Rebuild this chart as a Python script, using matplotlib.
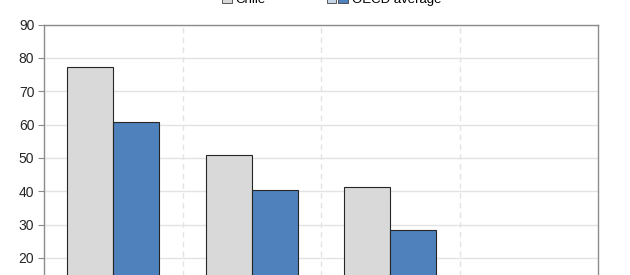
import numpy as np
import matplotlib
matplotlib.use("Agg")
import matplotlib.pyplot as plt
from matplotlib.patches import Patch
from matplotlib.legend_handler import HandlerTuple

# data (4th category is empty)
categories = ["A", "B", "C", "D"]
chile = [77.2, 50.8, 41.3, np.nan]
oecd = [60.8, 40.3, 28.3, np.nan]
series_names = ["Chile", "OECD average"]

plt.rcParams['font.family'] = ['Liberation Sans', 'DejaVu Sans']

fig = plt.figure(figsize=(6.3, 2.75), dpi=100)
# axes runs off the bottom of the figure (reference is cropped)
ax = fig.add_axes([44/630, -49.5/275, 554/630, 300/275])

x = np.arange(len(categories))
w = 0.333
ax.bar(x - w/2, chile, w, color='#d9d9d9', edgecolor='#262626', linewidth=0.8, zorder=3)
ax.bar(x + w/2, oecd, w, color='#4f81bd', edgecolor='#262626', linewidth=0.8, zorder=3)

ax.set_xlim(-0.5, len(categories) - 0.5)
ax.set_ylim(0, 90)
ax.set_yticks(np.arange(20, 91, 10))
ax.yaxis.grid(True, color='#e3e3e3', linewidth=1.0, zorder=0)
ax.axhline(10, color='#e3e3e3', linewidth=1.0, zorder=0)
for b in x[:-1] + 0.5:
    ax.axvline(b, color='#e3e3e3', linewidth=1.0, linestyle=(0, (4, 3)), zorder=0)
ax.set_xticks([])
for s in ax.spines.values():
    s.set_color('#8c8c8c')
    s.set_linewidth(1.0)
ax.tick_params(axis='y', length=4, color='#8c8c8c', labelsize=10, labelcolor='#262626', pad=3)

blank = Patch(facecolor='none', edgecolor='none')
h1 = Patch(facecolor='#d9d9d9', edgecolor='#404040', linewidth=0.6)
h2a = Patch(facecolor='#c6d4e8', edgecolor='#404040', linewidth=0.6)
h2b = Patch(facecolor='#4f81bd', edgecolor='#404040', linewidth=0.6)
fig.legend([(blank, h1), (h2a, h2b)], series_names, loc='center', bbox_to_anchor=(326/630, 1 + 0.5/275),
           ncol=2, frameon=False, fontsize=9.5, handlelength=1.6, handleheight=0.7,
           columnspacing=4.6, handletextpad=0.3, borderpad=0,
           handler_map={tuple: HandlerTuple(ndivide=None, pad=0.15)})

fig.savefig("out.png", dpi=100)
